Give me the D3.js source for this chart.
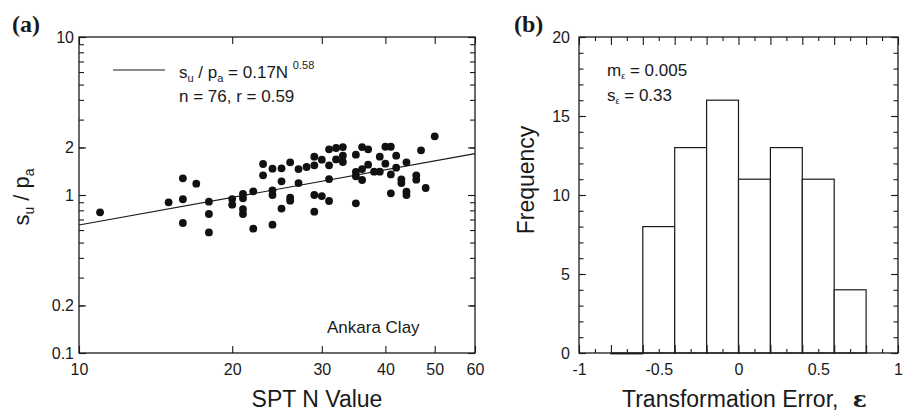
<!DOCTYPE html>
<html>
<head>
<meta charset="utf-8">
<script src="https://cdn.jsdelivr.net/npm/d3@7"></script>
<style>
  body { margin: 0; background: #fff; }
  svg { display: block; }
  text { font-family: "Liberation Sans", Arial, Helvetica, sans-serif; fill: #1a1a1a; }
</style>
</head>
<body>
<svg id="chart" width="906" height="414"></svg>
<script>
// ---------- Data: panel (a) SPT N vs su/pa ----------
const sptN = [11,15,16,16,16,17,18,18,18,20,20,21,21,21,21,22,22,23,23,24,24,24,24,25,25,25,26,26,26,27,27,28,29,29,29,29,30,30,31,31,31,31,32,32,33,33,33,35,35,35,35,36,36,36,37,37,38,39,39,40,40,41,41,41,42,42,43,43,44,44,44,46,46,47,48,50];
const suPa = [0.777,0.899,1.275,0.94,0.665,1.18,0.907,0.758,0.58,0.943,0.869,1.015,0.953,0.815,0.758,1.055,0.612,1.571,1.332,1.468,1.07,1.0,0.649,1.475,1.22,0.82,1.61,0.962,0.92,1.46,1.19,1.504,1.748,1.541,1.0,0.784,1.673,0.985,1.945,1.541,1.262,0.916,1.984,1.68,2.01,1.774,1.618,1.80,1.398,1.312,0.886,2.01,1.46,1.244,1.945,1.556,1.405,1.748,1.405,2.02,1.579,2.02,1.35,1.025,1.774,1.49,1.256,1.19,1.61,1.05,1.0,1.332,1.25,1.917,1.107,2.35];
const fitCoef = 0.17, fitExp = 0.58;
const xTicksA = [10,20,30,40,50,60];
const yLabelsA = [0.1,0.2,1,2,10];
const yMinorA = [0.1,0.2,0.3,0.4,0.5,0.6,0.7,0.8,0.9,1,2,3,4,5,6,7,8,9,10];

// ---------- Data: panel (b) histogram ----------
const binLow  = [-0.8,-0.6,-0.4,-0.2,0.0,0.2,0.4,0.6];
const binHigh = [-0.6,-0.4,-0.2,0.0,0.2,0.4,0.6,0.8];
const freq    = [0,8,13,16,11,13,11,4];
const xLabelsB = [-1,-0.5,0,0.5,1];
const xMinorB = d3.range(-10, 11).map(d => d / 10);
const yLabelsB = [0,5,10,15,20];
const yMinorB = d3.range(0, 21);

const svg = d3.select("#chart");
const ink = "#1a1a1a";

// ================= Panel (a) =================
const A = {l: 79, r: 475, t: 37, b: 353};
const xA = d3.scaleLog().domain([10, 60]).range([A.l, A.r]);
const yA = d3.scaleLog().domain([0.1, 10]).range([A.b, A.t]);
const gA = svg.append("g");

function styleAxis(g) {
  g.select(".domain").remove();
  g.selectAll("line").attr("stroke", ink).attr("stroke-width", 1.1);
  g.selectAll("text").attr("font-size", 16).attr("fill", ink)
    .style("font-family", '"Liberation Sans", Arial, sans-serif');
}

// ticks x (bottom + top)
gA.append("g").attr("transform", `translate(0,${A.b})`)
  .call(d3.axisBottom(xA).tickValues(xTicksA).tickFormat(d3.format("d")).tickSize(-7).tickPadding(10.6))
  .call(styleAxis);
gA.append("g").attr("transform", `translate(0,${A.t})`)
  .call(d3.axisTop(xA).tickValues(xTicksA).tickFormat("").tickSize(-7))
  .call(styleAxis);
// minor y ticks
gA.append("g").attr("transform", `translate(${A.l},0)`)
  .call(d3.axisLeft(yA).tickValues(yMinorA).tickFormat("").tickSize(-5))
  .call(styleAxis);
gA.append("g").attr("transform", `translate(${A.r},0)`)
  .call(d3.axisRight(yA).tickValues(yMinorA).tickFormat("").tickSize(-5))
  .call(styleAxis);
// major y ticks + labels
gA.append("g").attr("transform", `translate(${A.l},0)`)
  .call(d3.axisLeft(yA).tickValues(yLabelsA).tickFormat(d => String(d)).tickSize(-7).tickPadding(5))
  .call(styleAxis);
gA.append("g").attr("transform", `translate(${A.r},0)`)
  .call(d3.axisRight(yA).tickValues(yLabelsA).tickFormat("").tickSize(-7))
  .call(styleAxis);

// frame
gA.append("rect").attr("x", A.l).attr("y", A.t).attr("width", A.r - A.l).attr("height", A.b - A.t)
  .attr("fill", "none").attr("stroke", ink).attr("stroke-width", 1.3);

// fit line
const fitN = [10, 60];
gA.append("path")
  .attr("d", d3.line().x(d => xA(d)).y(d => yA(fitCoef * Math.pow(d, fitExp)))(fitN))
  .attr("stroke", ink).attr("stroke-width", 1.1).attr("fill", "none");

// points
gA.append("g").selectAll("circle").data(sptN.map((n, i) => [n, suPa[i]])).join("circle")
  .attr("cx", d => xA(d[0])).attr("cy", d => yA(d[1])).attr("r", 3.9).attr("fill", "#111");

// legend
gA.append("line").attr("x1", 113).attr("x2", 165).attr("y1", 70).attr("y2", 70)
  .attr("stroke", ink).attr("stroke-width", 1.1);
const t1 = gA.append("text").attr("x", 179).attr("y", 78).attr("font-size", 17);
t1.append("tspan").text("s");
t1.append("tspan").attr("font-size", 11).attr("dy", 4).text("u");
t1.append("tspan").attr("dy", -4).text(" / p");
t1.append("tspan").attr("font-size", 11).attr("dy", 4).text("a");
t1.append("tspan").attr("dy", -4).text(" = 0.17N ");
t1.append("tspan").attr("font-size", 11).attr("dy", -9).text("0.58");
gA.append("text").attr("x", 179).attr("y", 102).attr("font-size", 17).text("n = 76, r = 0.59");
gA.append("text").attr("x", 327).attr("y", 333).attr("font-size", 17).text("Ankara Clay");

// axis titles
gA.append("text").attr("x", (A.l + A.r) / 2 + 40).attr("y", 407).attr("text-anchor", "middle")
  .attr("font-size", 23).text("SPT N Value");
const yt = gA.append("text").attr("transform", "translate(29,197) rotate(-90)")
  .attr("text-anchor", "middle").attr("font-size", 22);
yt.append("tspan").text("s");
yt.append("tspan").attr("font-size", 14).attr("dy", 5).text("u");
yt.append("tspan").attr("dy", -5).text(" / p");
yt.append("tspan").attr("font-size", 14).attr("dy", 5).text("a");

// panel label
gA.append("text").attr("x", 12).attr("y", 32).attr("font-size", 24).attr("font-weight", "bold")
  .style("font-family", '"Liberation Serif", "Times New Roman", serif').text("(a)");

// ================= Panel (b) =================
const B = {l: 579, r: 898, t: 37, b: 353};
const xB = d3.scaleLinear().domain([-1, 1]).range([B.l, B.r]);
const yB = d3.scaleLinear().domain([0, 20]).range([B.b, B.t]);
const gB = svg.append("g");

// bars
gB.append("g").selectAll("rect").data(freq.map((f, i) => ({lo: binLow[i], hi: binHigh[i], f}))).join("rect")
  .attr("x", d => xB(d.lo)).attr("width", d => xB(d.hi) - xB(d.lo))
  .attr("y", d => yB(d.f)).attr("height", d => Math.max(yB(0) - yB(d.f), 0.8))
  .attr("fill", "#fff").attr("stroke", ink).attr("stroke-width", 1.2);

// minor ticks
const isMajorX = d => Math.abs(Math.round(d * 10)) % 2 === 0;
gB.append("g").attr("transform", `translate(0,${B.b})`)
  .call(d3.axisBottom(xB).tickValues(xMinorB).tickFormat("").tickSize(-4))
  .call(styleAxis)
  .selectAll(".tick line").attr("y2", d => isMajorX(d) ? -8 : -4);
gB.append("g").attr("transform", `translate(0,${B.t})`)
  .call(d3.axisTop(xB).tickValues(xMinorB).tickFormat("").tickSize(-4))
  .call(styleAxis)
  .selectAll(".tick line").attr("y2", d => isMajorX(d) ? 8 : 4);
gB.append("g").attr("transform", `translate(0,${B.b})`)
  .call(d3.axisBottom(xB).tickValues(xLabelsB).tickFormat(d => String(d)).tickSize(0).tickPadding(10.6))
  .call(styleAxis);

gB.append("g").attr("transform", `translate(${B.l},0)`)
  .call(d3.axisLeft(yB).tickValues(yMinorB).tickFormat("").tickSize(-4.5))
  .call(styleAxis);
gB.append("g").attr("transform", `translate(${B.r},0)`)
  .call(d3.axisRight(yB).tickValues(yMinorB).tickFormat("").tickSize(-4.5))
  .call(styleAxis);
gB.append("g").attr("transform", `translate(${B.l},0)`)
  .call(d3.axisLeft(yB).tickValues(yLabelsB).tickFormat(d => String(d)).tickSize(-7).tickPadding(9))
  .call(styleAxis);
gB.append("g").attr("transform", `translate(${B.r},0)`)
  .call(d3.axisRight(yB).tickValues(yLabelsB).tickFormat("").tickSize(-7))
  .call(styleAxis);

// frame
gB.append("rect").attr("x", B.l).attr("y", B.t).attr("width", B.r - B.l).attr("height", B.b - B.t)
  .attr("fill", "none").attr("stroke", ink).attr("stroke-width", 1.3);

// stats text
const m1 = gB.append("text").attr("x", 607).attr("y", 76).attr("font-size", 17);
m1.append("tspan").text("m");
m1.append("tspan").attr("font-size", 9).attr("dy", 3).text("ε");
m1.append("tspan").attr("dy", -3).text(" = 0.005");
const s1 = gB.append("text").attr("x", 607).attr("y", 101).attr("font-size", 17);
s1.append("tspan").text("s");
s1.append("tspan").attr("font-size", 9).attr("dy", 3).text("ε");
s1.append("tspan").attr("dy", -3).text(" = 0.33");

// axis titles
const xt = gB.append("text").attr("x", 622).attr("y", 407).attr("font-size", 23);
xt.append("tspan").text("Transformation Error, ");
xt.append("tspan").attr("dx", 8).attr("font-weight", "bold")
  .style("font-family", '"DejaVu Serif", "Liberation Serif", serif').text("ε");
gB.append("text").attr("transform", "translate(534,180) rotate(-90)")
  .attr("text-anchor", "middle").attr("font-size", 23).text("Frequency");

gB.append("text").attr("x", 514).attr("y", 32).attr("font-size", 24).attr("font-weight", "bold")
  .style("font-family", '"Liberation Serif", "Times New Roman", serif').text("(b)");
</script>
</body>
</html>
